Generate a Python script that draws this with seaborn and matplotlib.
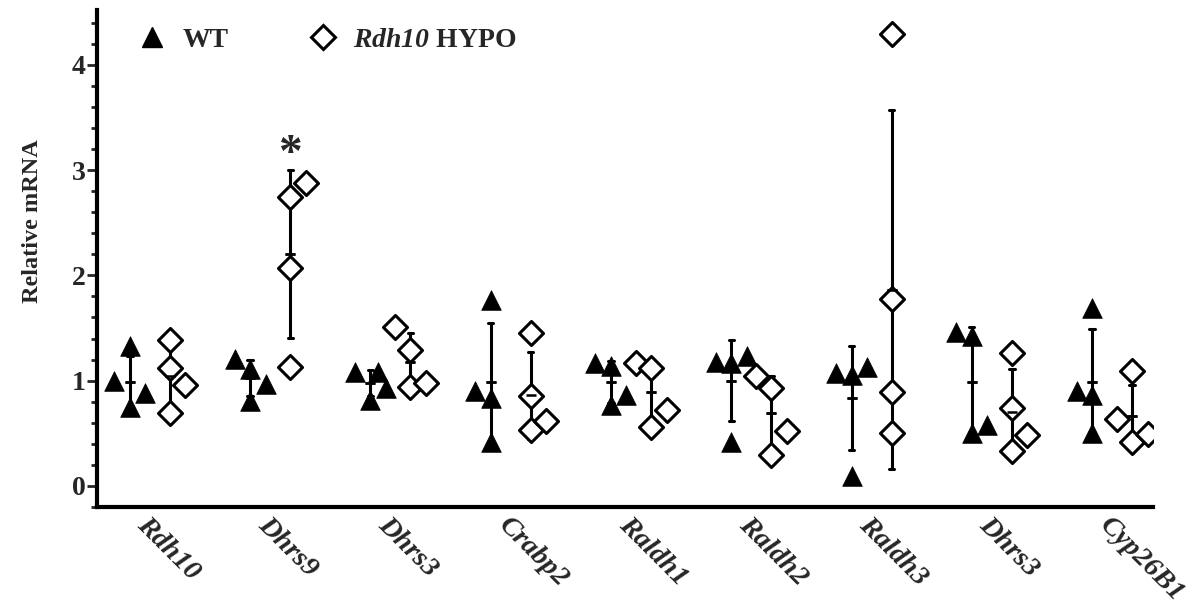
import numpy as np
import pandas as pd
import seaborn as sns
import matplotlib.pyplot as plt
from matplotlib.lines import Line2D
from matplotlib.ticker import MultipleLocator

genes = ['Rdh10', 'Dhrs9', 'Dhrs3', 'Crabp2', 'Raldh1', 'Raldh2', 'Raldh3', 'Dhrs3', 'Cyp26B1']

wt_values = [
    [1.00, 1.33, 0.75, 0.88],
    [1.21, 1.11, 0.97, 0.81],
    [1.08, 1.08, 0.93, 0.82],
    [1.77, 0.90, 0.84, 0.42],
    [1.17, 1.14, 0.86, 0.77],
    [1.18, 1.17, 1.23, 0.42],
    [1.07, 1.05, 1.13, 0.09],
    [1.46, 1.42, 0.50, 0.58],
    [1.69, 0.90, 0.86, 0.50],
]
hypo_values = [
    [1.39, 1.12, 0.96, 0.69],
    [2.74, 2.88, 2.07, 1.13],
    [1.51, 1.29, 0.94, 0.98],
    [1.45, 0.85, 0.53, 0.62],
    [1.17, 1.12, 0.72, 0.56],
    [1.04, 0.93, 0.52, 0.29],
    [4.29, 1.78, 0.89, 0.50],
    [1.26, 0.74, 0.48, 0.33],
    [1.09, 0.64, 0.42, 0.49],
]

# horizontal scatter slots (layout only, like prism's spread)
wt_spread = [[-1, 0, 0, 1], [-1, 0, 1, 0], [-1, 0.5, 1, 0], [0, -1, 0, 0], [-1, 0, 1, 0],
             [-1, 0, 1, 0], [-1, 0, 1, 0], [-1, 0, 0, 1], [0, -1, 0, 0]]
hypo_spread = [[0, 0, 1, 0], [0, 1, 0, 0], [-1, 0, 0, 1], [0, 0, 0, 1], [-1, 0, 1, 0],
               [-1, 0, 1, 0], [0, 0, 0, 0], [0, 0, 1, 0], [0, -1, 0, 1]]

dodge = 0.333
step = 0.129
offset = {'WT': -dodge / 2, 'HYPO': dodge / 2}

rows = []
for i in range(len(genes)):
    for v, s in zip(wt_values[i], wt_spread[i]):
        rows.append({'pos': i, 'genotype': 'WT', 'value': v, 'spread': s})
    for v, s in zip(hypo_values[i], hypo_spread[i]):
        rows.append({'pos': i, 'genotype': 'HYPO', 'value': v, 'spread': s})
df = pd.DataFrame(rows)
df['xs'] = df['pos'] + df['genotype'].map(offset) + df['spread'] * step

sns.set_style('ticks')
plt.rcParams['font.family'] = ['Liberation Serif', 'DejaVu Serif']
plt.rcParams['font.weight'] = 'bold'
plt.rcParams['mathtext.fontset'] = 'custom'
plt.rcParams['mathtext.it'] = 'Liberation Serif:italic:bold'
plt.rcParams['mathtext.rm'] = 'Liberation Serif:italic:bold'

fig = plt.figure(figsize=(12.02, 6.11), dpi=100)
ax = fig.add_axes([0.0807, 0.1702, 0.8785, 0.8134])

wt = df[df.genotype == 'WT']
hy = df[df.genotype == 'HYPO']
sns.scatterplot(data=wt, x='xs', y='value', marker='^', s=200, color='black',
                edgecolor='black', linewidth=0.5, ax=ax, zorder=3, legend=False)
sns.scatterplot(data=hy, x='xs', y='value', marker='D', s=150, color='white',
                edgecolor='black', linewidth=2.2, ax=ax, zorder=3, legend=False)

pal = {'WT': 'black', 'HYPO': 'black'}
sns.pointplot(data=df, x='pos', y='value', hue='genotype', hue_order=['WT', 'HYPO'],
              native_scale=True, dodge=dodge, errorbar='sd', capsize=0.045,
              linestyle='none', markers='_', markersize=6.5, markeredgewidth=1.8,
              palette=pal, err_kws={'linewidth': 2.2, 'zorder': 2},
              legend=False, ax=ax, zorder=2)
sns.pointplot(data=df, x='pos', y='value', hue='genotype', hue_order=['WT', 'HYPO'],
              native_scale=True, dodge=dodge, errorbar=None,
              linestyle='none', markers='_', markersize=6.5, markeredgewidth=1.8,
              palette=pal, legend=False, ax=ax, zorder=4)

# significance mark above Dhrs9 HYPO
ax.text(1 + dodge / 2, 3.14, '*', ha='center', va='center', fontsize=34, fontweight='bold')

ax.set_xlim(-0.44, 8.34)
ax.set_ylim(-0.2, 4.52)
ax.set_xticks(range(len(genes)), genes)
ax.set_yticks([0, 1, 2, 3, 4])
ax.yaxis.set_minor_locator(MultipleLocator(0.2))
ax.tick_params(axis='x', length=0, pad=4)
ax.tick_params(axis='y', which='major', length=7, width=2.0, labelsize=20, pad=1,
               direction='out')
ax.tick_params(axis='y', which='minor', length=4.3, width=2.0, direction='out')
for lab in ax.get_xticklabels():
    lab.set_rotation(-45)
    lab.set_ha('left')
    lab.set_va('top')
    lab.set_rotation_mode('anchor')
    lab.set_fontstyle('italic')
    lab.set_fontweight('bold')
    lab.set_fontsize(20.5)
for lab in ax.get_yticklabels():
    lab.set_fontweight('bold')

ax.set_xlabel('')
ax.set_ylabel('Relative mRNA', fontsize=17.5, fontweight='bold')
ax.yaxis.set_label_coords(-0.051, 0.575)

ax.spines.right.set_visible(False)
ax.spines.top.set_visible(False)
for s in ['left', 'bottom']:
    ax.spines[s].set_linewidth(3)
    ax.spines[s].set_color('black')

handles = [
    Line2D([], [], marker='^', ls='none', color='black', markersize=14),
    Line2D([], [], marker='D', ls='none', mfc='white', mec='black', mew=2.2, markersize=12),
]
ax.legend(handles, ['WT', r'$\mathit{Rdh10}$ HYPO'], loc='upper left',
          bbox_to_anchor=(0.015, 0.988), borderaxespad=0, ncol=2, frameon=False,
          handletextpad=0.1, columnspacing=2.4, prop={'weight': 'bold', 'size': 20})

fig.savefig('out.png', dpi=100)
